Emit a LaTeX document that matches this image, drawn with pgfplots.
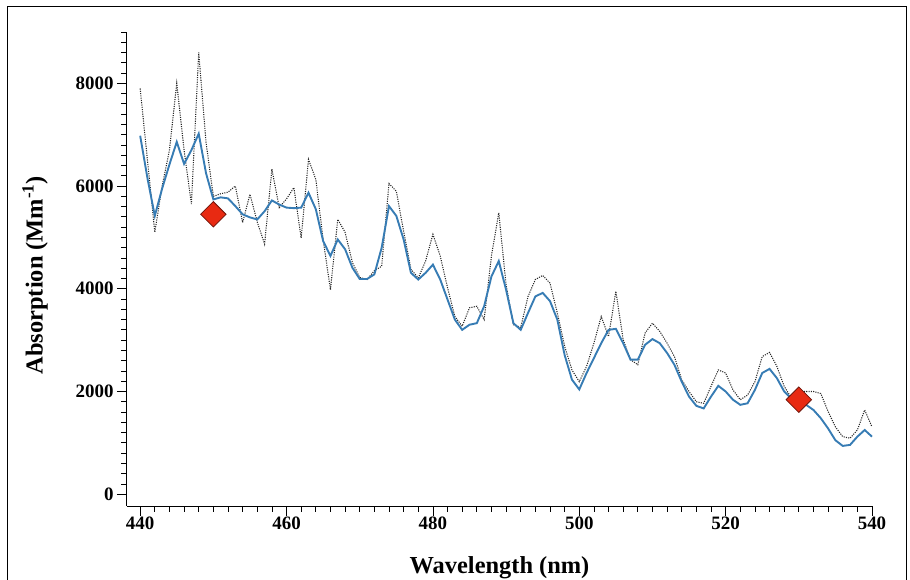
\documentclass[border=0pt]{standalone}
\usepackage{fontspec}
\setmainfont{Liberation Serif}
\usepackage{pgfplots}
\usepackage{pgfplotstable}
\pgfplotsset{compat=1.18}

\definecolor{smoothblue}{RGB}{55,124,180}
\definecolor{markred}{RGB}{232,42,18}
\definecolor{markedge}{RGB}{110,20,10}

% wavelength, raw absorption, smoothed absorption
\pgfplotstableread{
wl raw smooth
440 7900 6980
441 6500 6150
442 5100 5420
443 6000 5950
444 6700 6420
445 8000 6860
446 6700 6430
447 5650 6700
448 8600 7020
449 6850 6250
450 5800 5740
451 5850 5780
452 5880 5760
453 6000 5610
454 5290 5450
455 5840 5390
456 5300 5350
457 4870 5510
458 6330 5720
459 5580 5640
460 5750 5580
461 5970 5570
462 4990 5580
463 6520 5870
464 6130 5550
465 4960 4930
466 3980 4640
467 5350 4960
468 5100 4770
469 4510 4410
470 4220 4190
471 4180 4190
472 4350 4280
473 4440 4800
474 6050 5610
475 5900 5420
476 5120 4960
477 4380 4310
478 4210 4180
479 4540 4310
480 5060 4470
481 4640 4180
482 4020 3790
483 3460 3400
484 3270 3200
485 3630 3300
486 3660 3330
487 3400 3660
488 4640 4240
489 5480 4540
490 4080 3980
491 3300 3330
492 3250 3200
493 3850 3530
494 4180 3850
495 4260 3920
496 4110 3760
497 3530 3400
498 2880 2710
499 2420 2230
500 2190 2040
501 2490 2360
502 2940 2650
503 3460 2940
504 3070 3200
505 3950 3220
506 3010 2940
507 2620 2620
508 2520 2620
509 3140 2910
510 3330 3020
511 3170 2940
512 2940 2750
513 2680 2520
514 2230 2190
515 2000 1900
516 1800 1720
517 1770 1670
518 2100 1900
519 2420 2110
520 2360 2000
521 2030 1840
522 1840 1740
523 1930 1770
524 2190 2030
525 2680 2360
526 2760 2440
527 2490 2260
528 2100 2000
529 1870 1860
530 2000 1790
531 2000 1740
532 2000 1640
533 1960 1480
534 1610 1280
535 1310 1050
536 1120 940
537 1090 960
538 1250 1120
539 1640 1250
540 1310 1120
}\spectrum

\pgfplotstableread{
wl abs
450 5450
530 1840
}\reference

\begin{document}
\begin{tikzpicture}
\useasboundingbox (-127bp,-74bp) rectangle (783bp,506bp);
\draw[black, line width=0.8bp] (-120bp,-90bp) rectangle (779bp,500bp);
\begin{axis}[
  at={(0,0)}, anchor=south west,
  scale only axis, width=745bp, height=474bp,
  xmin=438.2, xmax=540, ymin=-230, ymax=9000,
  axis lines=left,
  axis line style={-, line width=1bp},
  xtick={440,460,...,540},
  minor xtick={440,442,...,540},
  ytick={0,2000,...,8000},
  minor ytick={0,200,...,9000},
  tick align=outside,
  major tick length=10bp, minor tick length=5.5bp,
  every tick/.style={black, line width=0.8bp},
  /pgf/number format/assume math mode=true,
  /pgf/number format/1000 sep={},
  ticklabel style={font=\fontsize{19}{19}\selectfont\bfseries},
  xticklabel style={yshift=3bp},
  xlabel={Wavelength (nm)},
  ylabel={Absorption (Mm\textsuperscript{-1})},
  label style={font=\fontsize{24.5}{24.5}\selectfont\bfseries},
  xlabel style={at={(axis description cs:0.5,0)}, anchor=center, yshift=-62bp},
  ylabel style={at={(axis description cs:-0.1235,0.487)}, anchor=center},
  clip=false,
]
\addplot[black!85, line width=1.05bp, dash pattern=on 1.1bp off 1.2bp] table[x=wl, y=raw] {\spectrum};
\addplot[smoothblue, line width=1.9bp] table[x=wl, y=smooth] {\spectrum};
\addplot[only marks, mark=square*, mark size=9bp,
  mark options={rotate=45, fill=markred, draw=markedge, line width=0.8bp}]
  table[x=wl, y=abs] {\reference};
\end{axis}
\end{tikzpicture}
\end{document}
